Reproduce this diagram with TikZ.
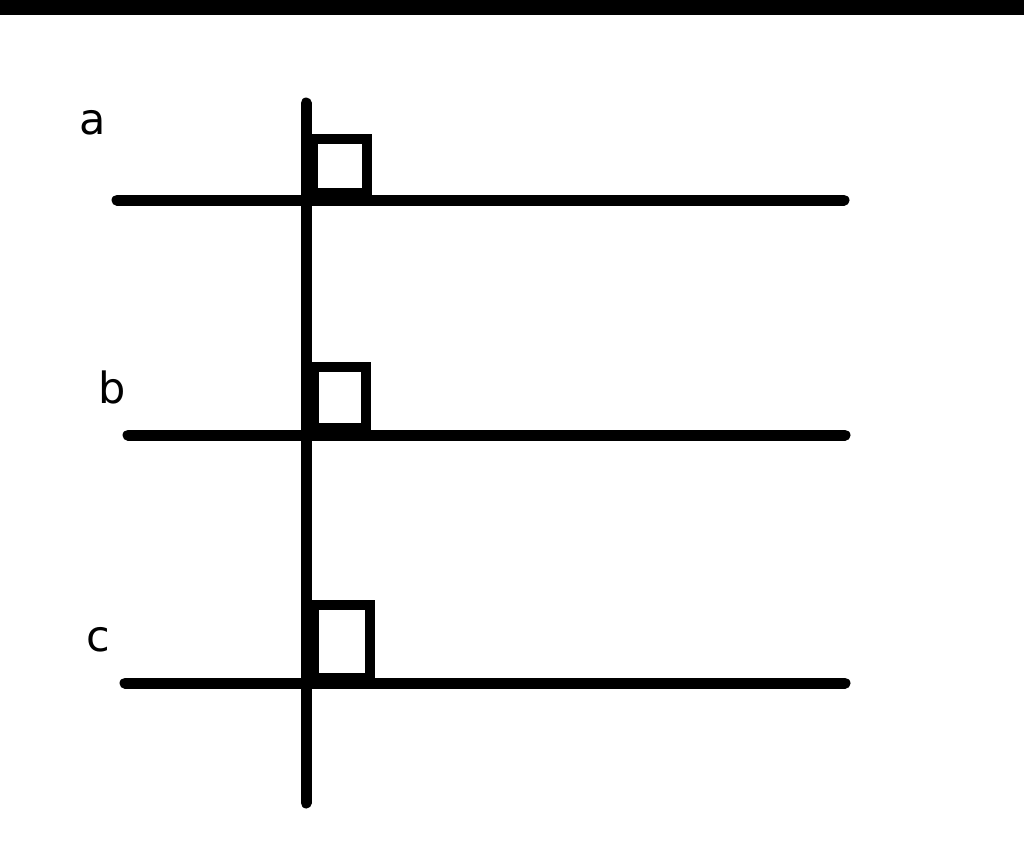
\documentclass[tikz,border=0pt]{standalone}
\usepackage{fontspec}
\setmainfont{DejaVu Sans}
\usetikzlibrary{positioning,calc}

\begin{document}
\begin{tikzpicture}[
    x=1pt, y=-1pt,
    thickline/.style={line width=11pt, line cap=round},
    rightbox/.style={draw, line width=10.5pt, line join=miter},
    lbl/.style={inner sep=0pt, font=\fontsize{43}{47}\selectfont}
]
    \useasboundingbox (0,0) rectangle (1024,857);
    \fill (0,0) rectangle (1024,15);

    % transversal
    \coordinate (T1) at (306,103);
    \coordinate (T2) at (306,803);
    % parallel lines
    \coordinate (A1) at (117,200);
    \coordinate (A2) at (844,200);
    \coordinate (B1) at (128,435);
    \coordinate (B2) at (845,435);
    \coordinate (C1) at (125,683);
    \coordinate (C2) at (845,683);

    \node[lbl] (a) at (93,123) {a};
    \node[lbl] (b) at (112,387) {b};
    \node[lbl] (c) at (98,640) {c};

    \draw[thickline] (A1) -- (A2);
    \draw[thickline] (B1) -- (B2);
    \draw[thickline] (C1) -- (C2);
    \draw[thickline] (T1) -- (T2);

    % right angle marks
    \draw[rightbox] (313,139) rectangle (367,193);
    \draw[rightbox] (314,367) rectangle (366,428);
    \draw[rightbox] (314,605) rectangle (370,678);

\end{tikzpicture}
\end{document}
